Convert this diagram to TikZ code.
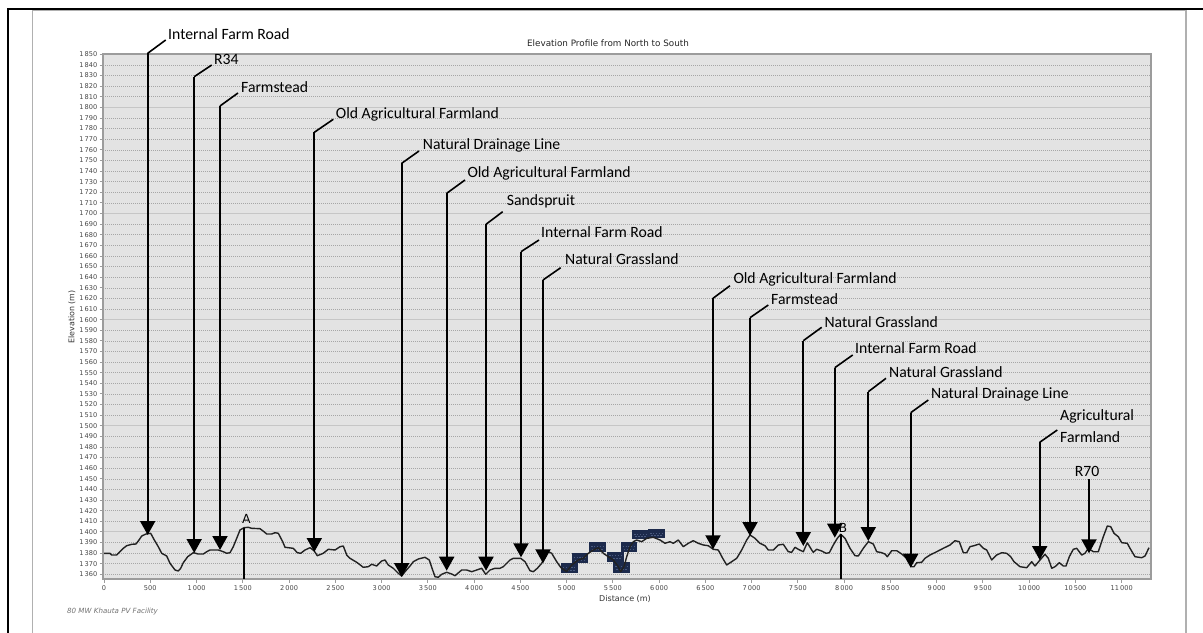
\documentclass[tikz,border=0pt]{standalone}
\usepackage{fontspec}
\setmainfont{Carlito}
\newfontfamily\tickfont{DejaVu Sans}
\usetikzlibrary{arrows.meta,calc}
\definecolor{plotbg}{HTML}{E3E3E3}
\definecolor{gridc}{HTML}{A6A6A6}
\definecolor{majorc}{HTML}{C6C6C6}
\definecolor{axisc}{HTML}{9C9C9C}
\definecolor{framegray}{HTML}{B0B0B0}
\definecolor{navybox}{HTML}{1C2A4C}
\definecolor{navyspeck}{HTML}{4A5A7E}
\definecolor{tickc}{HTML}{484848}
\definecolor{profc}{HTML}{222222}
\tikzset{
  lab/.style={font=\fontsize{15.7bp}{18bp}\selectfont, inner sep=0pt, anchor=base west},
  ticklab/.style={font=\tickfont\fontsize{6.6bp}{7bp}\selectfont, text=tickc, inner sep=0pt},
  callout/.style={line width=2bp, -{Triangle[length=14bp,width=15bp]}, line join=miter},
  leader/.style={line width=1.6bp},
  gridminor/.style={gridc, line width=0.5bp, dash pattern=on 1bp off 1bp},
  gridmajor/.style={majorc, line width=1.2bp},
  profile/.style={profc, line width=1.4bp, line join=round},
  markline/.style={line width=1.6bp},
  marklab/.style={font=\tickfont\fontsize{12.5bp}{14bp}\selectfont, inner sep=0pt},
}
\begin{document}
\begin{tikzpicture}[x=1bp,y=-1bp]
\useasboundingbox (0,0) rectangle (1203,633);
\fill[white] (0,0) rectangle (1203,633);
% outer frames
\draw[framegray, line width=1.2bp] (32.7,633) -- (32.7,10) -- (1186,10) -- (1186,633);
\draw[black, line width=2bp] (7.7,633) -- (7.7,9.5) -- (1203,9.5);
% plot area
\fill[plotbg] (103,54) rectangle (1151,579);
\foreach \i in {0,...,49}{
  \pgfmathsetmacro\yy{54.3+\i*10.612}
  \pgfmathtruncatemacro\ee{1850-10*\i}
  \pgfmathtruncatemacro\th{int(\ee/1000)}
  \pgfmathtruncatemacro\rr{\ee-1000*\th}
  \pgfmathtruncatemacro\mm{mod(\ee,100)}
  \ifnum\mm=0
    \draw[gridmajor] (103,\yy) -- (1151,\yy);
  \else
    \draw[gridminor] (103,\yy) -- (1151,\yy);
  \fi
  \draw[axisc, line width=0.8bp] (99.5,\yy) -- (103,\yy);
  \node[ticklab, anchor=east] (yl\i) at (97.5,\yy) {\th\,\rr};
}
\draw[axisc, line width=1.3bp] (103,54) rectangle (1151,579);
% x ticks
\foreach \d/\t in {0/0,500/500,1000/{1\,000},1500/{1\,500},2000/{2\,000},2500/{2\,500},3000/{3\,000},3500/{3\,500},4000/{4\,000},4500/{4\,500},5000/{5\,000},5500/{5\,500},6000/{6\,000},6500/{6\,500},7000/{7\,000},7500/{7\,500},8000/{8\,000},8500/{8\,500},9000/{9\,000},9500/{9\,500},10000/{10\,000},10500/{10\,500},11000/{11\,000}}{
  \pgfmathsetmacro\xx{104+\d*0.09252}
  \draw[axisc, line width=0.8bp] (\xx,579) -- (\xx,582.5);
  \node[ticklab] (xl\d) at (\xx,588.5) {\t};
}
% titles
\node[font=\tickfont\fontsize{8.8bp}{10bp}\selectfont, text=black!85, inner sep=0pt] (title) at (608,43) {Elevation Profile from North to South};
\node[font=\tickfont\fontsize{8bp}{9bp}\selectfont, text=black!80, inner sep=0pt] (xtitle) at (625,598.5) {Distance (m)};
\node[font=\tickfont\fontsize{7.9bp}{9bp}\selectfont, text=black!80, inner sep=0pt, rotate=90] (ytitle) at (72,317) {Elevation (m)};
\node[font=\tickfont\itshape\fontsize{7.1bp}{8bp}\selectfont, text=black!55, inner sep=0pt, anchor=west] (caption) at (67,612) {80 MW Khauta PV Facility};
% blue boxes
\foreach \a/\b/\c/\e in {561/563.3/577.7/573.3, 571.7/553.3/588.3/563.3, 589.3/542.3/606/552.3, 607.3/551.7/624/561.7, 613.3/562.3/630/572.7, 620.7/542.3/637.3/552.3, 632.3/530/649/539.3, 648.3/529.3/665/538.3}{
  \fill[navybox] (\a,\b) rectangle (\c,\e);
  \draw[navyspeck, line width=0.8bp, dash pattern=on 1.2bp off 1.6bp] ($(\a,\b)+(2,4)$) -- ($(\c,\b)+(-2,4)$);
  \draw[navyspeck, line width=0.8bp, dash pattern=on 1.6bp off 1.4bp] ($(\a,\e)+(3,-3)$) -- ($(\c,\e)+(-3,-3)$);
}
% profile
\draw[profile] plot coordinates {(104,553.3) (110,553.3) (111.7,555) (116.7,555) (120,551.7) (123.3,548.3) (126.7,545.7) (131.7,544.3) (136,544) (139,540) (141.7,536) (146,534) (150.7,533.3) (154.3,540) (158.3,546.7) (161.7,553.3) (166.7,556) (170,563.3) (175,570) (178.3,571) (180.7,568.3) (183.3,562.7) (187.7,556.7) (193.3,552.7) (198.3,554) (203.3,554) (206.7,551.7) (210,550) (218.3,550) (223.3,551.7) (226.7,553.3) (230,552.7) (233.3,546.7) (236.7,538.3) (240,530) (244,527.7) (248.3,527.3) (251.7,528.3) (260,528.7) (264,531.7) (266.7,534) (271.7,534) (275,532.7) (278.3,533.3) (282.7,541.7) (285,547.3) (293.3,548.3) (297.3,552.7) (300.7,553.3) (305,550) (310,547.7) (314,550.7) (317.3,555.7) (323.3,553.3) (328.3,549.3) (335,550) (340,546.7) (343.3,546) (346.7,555) (350,558.3) (356.7,562.3) (363.3,567.3) (368.3,566.7) (371.7,564.3) (376.7,566) (381.7,561) (385,560) (388.3,565) (393.3,568.3) (398.3,573.3) (401.7,576) (405,571.7) (410,566) (413.3,561.7) (418.3,559) (425,557.3) (429.3,560) (431.7,567.3) (435,576.7) (438.3,577.3) (441.7,574.3) (446.7,572.3) (451.7,574) (455,575.7) (461.7,570) (466.7,570) (471.7,571.7) (476.7,570) (481.7,568.3) (485.7,574.3) (490,570) (495,568.3) (500,568.3) (503.3,566.7) (510,560) (513.3,558.3) (520.7,558.3) (525,561.7) (530,570.7) (533.3,571.7) (537.3,568.3) (541.7,563.3) (545,556.7) (548.3,551.7) (551.7,553.3) (556.7,561.7) (561,567.7) (566.7,571.7) (571.7,565) (578.3,560) (583.3,558.3) (588.3,553.3) (593.3,550) (598.3,547.7) (603.3,553.3) (608.3,556.7) (613.3,560) (618.3,566.7) (620.7,571.7) (624,566.7) (626.7,556.7) (630,546.7) (633.3,541.7) (636.7,540) (641.7,541.7) (646.7,538.3) (653.3,537.3) (660,540) (665,543.3) (670,541.7) (673.3,543.3) (678.3,540) (683.3,546.7) (688.3,543.3) (693.3,540.7) (698.3,543.3) (703.3,545) (708.3,545.7) (713.3,549.3) (718.3,550) (722.7,558.3) (726.7,565) (731.7,561.7) (736.7,558.3) (741.7,550) (746.7,540) (750,535) (755,538.3) (760,543.3) (765,545.7) (768.3,550) (773.3,550) (778.3,545) (783.3,544.3) (788.3,551.7) (791.7,552.3) (795,547.3) (798.3,549.3) (803.3,551.7) (807.3,542.7) (811.7,550) (813.3,552.3) (816.7,549.3) (821.7,551) (826,553.3) (829.3,552.7) (833.3,545) (837.3,538.3) (840.7,534.3) (845,538.3) (850,548.3) (855,555.7) (858.3,556) (863.3,548.3) (868.3,541.7) (873.3,544) (876.7,551.7) (881.7,552.7) (885,554) (887.3,556.7) (891.7,550.7) (896.7,550.7) (901.7,554) (906.7,558.3) (911.7,566.7) (914,566.7) (916.7,562.7) (921.7,562.3) (925,558.3) (930,555) (936.7,551.7) (943.3,548.3) (950,545) (955,540.7) (959.3,541.7) (963.3,552.7) (966.7,552.7) (970,546.7) (974,545.7) (979.3,544) (983.3,548.3) (986.7,550) (991.7,560) (996.7,555) (1001.7,552.7) (1006.7,553.3) (1010.7,556.7) (1014,561.7) (1020,566.7) (1026.7,567.7) (1031.7,561.7) (1035,566) (1040,560) (1045,554.3) (1048.3,558.3) (1051.7,568.3) (1055,566.7) (1059.3,562.7) (1063.3,566) (1066,566) (1069.3,556.7) (1073.3,549.3) (1076.7,548.3) (1081.7,555) (1085,553.3) (1088.3,548.3) (1093.3,551.7) (1098.3,551.7) (1103.3,536.7) (1107.3,526) (1110.7,526.7) (1114,533.3) (1118.3,536.7) (1121.7,542.7) (1127.3,543.3) (1130,548.3) (1135,556.7) (1141.7,557.7) (1145,556) (1149,547.7)};
% A and B markers
\coordinate (Atop) at (244,527.7); \coordinate (Abot) at (244,579);
\draw[markline] (Atop) -- (Abot);
\node[marklab] (Alab) at (246.5,519) {A};
\coordinate (Btop) at (840.7,534.3); \coordinate (Bbot) at (840.7,578.5);
\draw[markline] (Btop) -- (Bbot);
% callouts: n / text x / text y(base) / diag x / diag y / vertical x / bend y / tip y / text
\foreach \n/\tx/\ty/\dx/\dy/\vx/\by/\tipy/\txt in {
  1/168/40/165.7/40/147.7/53.3/535/Internal Farm Road,
  2/214/65/211.7/65/194.2/76.7/553/R34,
  3/241/93/238/93/220/106/550/Farmstead,
  4/335.7/119/333.3/119.3/314.3/132.3/552/Old Agricultural Farmland,
  5/422.7/149.3/419/151/401.7/163.3/577/Natural Drainage Line,
  6/467.3/177.3/465/180/446.7/193.3/570.7/Old Agricultural Farmland,
  7/506.7/206/502.7/211.7/486/224.3/570.7/Sandspruit,
  8/541/237.7/539/240/521/251.7/557.3/Internal Farm Road,
  9/565/264.3/560.7/267.7/543/280/563.3/Natural Grassland,
  10/733.3/284/730/285.7/713/298.3/549.3/Old Agricultural Farmland,
  11/771/304.3/768.3/305/750/317.7/536/Farmstead,
  12/824.3/327.7/821.7/327.3/803.3/340.7/546/Natural Grassland,
  13/855/354/852.7/355/834.8/367.7/537.7/Internal Farm Road,
  14/889/377.7/886/378.3/868.3/391.7/541/Natural Grassland,
  15/931/398.3/928.3/400/910.7/412.7/567.7/Natural Drainage Line}{
  \node[lab] (L\n) at (\tx,\ty) {\txt};
  \coordinate (D\n) at (\dx,\dy);
  \coordinate (V\n) at (\vx,\by);
  \coordinate (T\n) at (\vx,\tipy);
  \draw[leader] (D\n) -- (V\n);
  \draw[callout] (V\n) -- (T\n);
}
% callout 16 (two lines)
\node[lab] (L16a) at (1060,420.7) {Agricultural};
\node[lab] (L16b) at (1060,442.7) {Farmland};
\coordinate (D16) at (1057.3,430); \coordinate (V16) at (1039.7,442.3); \coordinate (T16) at (1039.7,560);
\draw[leader] (D16) -- (V16);
\draw[callout] (V16) -- (T16);
% callout 17
\node[lab, anchor=base] (L17) at (1087,476.7) {R70};
\coordinate (V17) at (1089,479); \coordinate (T17) at (1089,553.3);
\draw[callout] (V17) -- (T17);
\node[marklab] (Blab) at (843,528) {B};
\end{tikzpicture}
\end{document}
